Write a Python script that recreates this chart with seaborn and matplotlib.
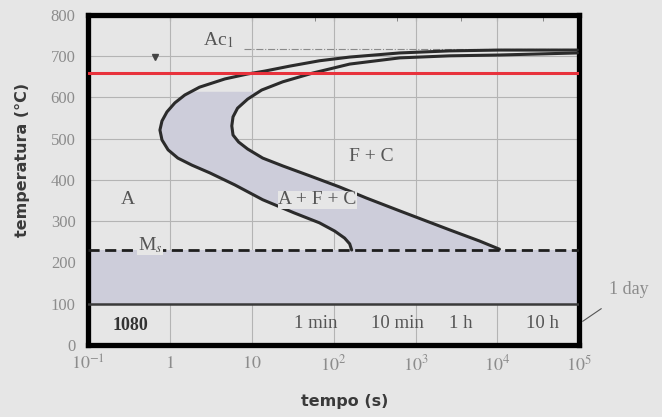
import numpy as np
import pandas as pd
import matplotlib
matplotlib.use("Agg")
import matplotlib.pyplot as plt
import seaborn as sns

# diagrama TTT do aco 1080
inicio_t = [95000, 10600, 2600, 640, 157, 67, 29, 14.4, 8.9, 4.7, 2.3, 1.52, 1.15, 0.92, 0.80, 0.755,
            0.80, 0.95, 1.25, 1.85, 3.08, 6.2, 13.6, 33, 67, 103, 136, 157, 166]
inicio_T = [715, 715, 713, 708, 698, 689, 676, 664, 657, 645, 625, 606, 587, 565, 543, 521,
            497, 473, 453, 436, 417, 388, 352, 320, 296, 276, 259, 245, 230]

fim_t = [95000, 10600, 2600, 640, 157, 55, 23.9, 13.2, 8.9, 6.7, 5.9, 5.7, 5.9, 6.9, 8.9, 13.6,
         23.9, 51, 118, 252, 640, 2600, 6030, 10600]
fim_T = [708, 703, 701, 696, 681, 659, 638, 618, 596, 574, 553, 531, 509, 492, 475, 453,
         434, 410, 383, 356, 325, 279, 252, 232]

Ac1 = 718
T_vermelho = 660
Ms = 230
M_inf = 100

x_ticks = [0.1, 1, 10, 100, 1000, 10000, 100000]
x_labels = ["$10^{-1}$", "$1$", "$10$", "$10^{2}$", "$10^{3}$", "$10^{4}$", "$10^{5}$"]
y_ticks = [0, 100, 200, 300, 400, 500, 600, 700, 800]
tempo_t = [60, 600, 3600, 36000]
tempo_labels = ["1 min", "10 min", "1 h", "10 h"]

bg = "#e6e6e6"
sombra = "#cdcdda"
cinza = "#8c8c8c"
curva = "#2b2b2b"

sns.set_style("white")
plt.rcParams["font.family"] = ["Liberation Serif", "DejaVu Serif"]
plt.rcParams["mathtext.fontset"] = "stix"

fig = plt.figure(figsize=(6.62, 4.17), dpi=100, facecolor=bg)
ax = fig.add_axes([0.133, 0.173, 0.742, 0.791])
ax.set_facecolor(bg)
ax.set_xscale("log")
ax.set_xlim(0.1, 100000)
ax.set_ylim(0, 800)

# grade
for xv in x_ticks[1:-1]:
    ax.axvline(xv, color="#b4b4b4", lw=0.8, zorder=1)
for yv in y_ticks[2:-1]:
    ax.axhline(yv, color="#b4b4b4", lw=0.8, zorder=1)

# regiao sombreada entre as curvas
Tg = np.linspace(Ms, 615, 300)
tl = 10 ** np.interp(Tg, inicio_T[::-1], np.log10(inicio_t[::-1]))
tr = 10 ** np.interp(Tg, fim_T[::-1], np.log10(fim_t[::-1]))
ax.fill_betweenx(Tg, tl, tr, color=sombra, lw=0, zorder=1.5)
ax.axhspan(M_inf, Ms, color=sombra, lw=0, zorder=1.5)

# curvas de inicio e fim
df_ini = pd.DataFrame({"t": inicio_t, "T": inicio_T})
df_fim = pd.DataFrame({"t": fim_t, "T": fim_T})
sns.lineplot(data=df_ini, x="t", y="T", sort=False, estimator=None, color=curva, lw=2.2, ax=ax, zorder=3)
sns.lineplot(data=df_fim, x="t", y="T", sort=False, estimator=None, color=curva, lw=2.2, ax=ax, zorder=3)

ax.axhline(T_vermelho, color="#e8323c", lw=2.2, zorder=4)
ax.axhline(Ms, color="#1e1e1e", lw=2, ls=(0, (4, 2)), zorder=3)
ax.axhline(M_inf, color="#3a3a3a", lw=1.8, zorder=3)
ax.plot([8, 100000], [Ac1, Ac1], color="#8a8a8a", lw=0.8, ls="-.", zorder=2)
ax.plot([0.66], [697], marker="v", ms=5, color="#444444", zorder=4)

# textos
txt = dict(color="#555555", fontsize=14, ha="center", va="center", zorder=5)
ax.text(3.9, 739, "Ac$_1$", **txt)
ax.text(0.31, 352, "A", **txt)
ax.text(290, 456, "F + C", **txt)
ax.text(63, 352, "A + F + C", bbox=dict(facecolor=bg, edgecolor="none", pad=0.3), **txt)
ax.text(0.57, 242, "M$_s$", bbox=dict(facecolor=bg, edgecolor="none", pad=0.3), **txt)
ax.text(0.33, 48, "1080", color="#333333", fontsize=13, fontweight="bold", ha="center", va="center")
for tv, lab in zip(tempo_t, tempo_labels):
    ax.text(tv, 53, lab, color="#555555", fontsize=13.5, ha="center", va="center")

ax.annotate("1 day", xy=(110000, 57), xycoords="data", xytext=(0.95, 0.305),
            textcoords="figure fraction", color=cinza, fontsize=13, ha="center", va="center",
            arrowprops=dict(arrowstyle="-", color="#555555", lw=0.8, shrinkA=9, shrinkB=0),
            annotation_clip=False)

# eixos
ax.set_xticks(x_ticks)
ax.set_xticklabels(x_labels)
ax.set_xticks(tempo_t, minor=True)
ax.set_yticks(y_ticks)
ax.tick_params(axis="x", which="both", direction="in", top=True, length=4, color="#777777",
               labelcolor=cinza, labelsize=13, pad=7)
ax.tick_params(axis="y", length=0, labelcolor=cinza, labelsize=12, pad=9)
for s in ax.spines.values():
    s.set_linewidth(3.8)
    s.set_color("black")

ax.set_xlabel("tempo (s)", fontfamily="DejaVu Sans", fontsize=11.5, fontweight="bold", color="#3a3a3a")
ax.set_ylabel("temperatura (°C)", fontfamily="DejaVu Sans", fontsize=11.5, fontweight="bold", color="#3a3a3a")
ax.xaxis.set_label_coords(0.523, -0.15)
ax.yaxis.set_label_coords(-0.118, 0.56)

fig.savefig("out.png", dpi=100, facecolor=bg)
